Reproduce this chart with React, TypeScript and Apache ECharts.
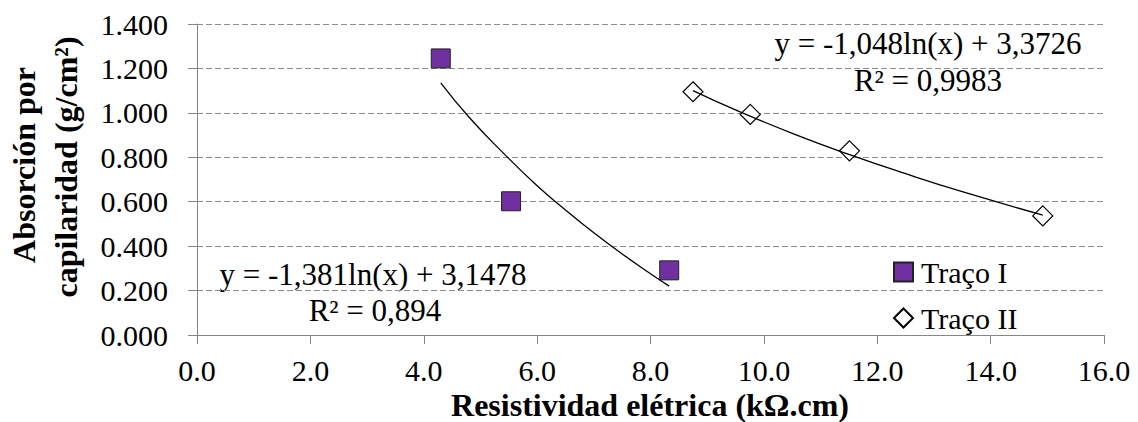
import React, { useEffect, useRef } from "react";
import * as echarts from "echarts";

// Scatter data
const traco1X = [4.3, 5.54, 8.33];
const traco1Y = [1.245, 0.602, 0.291];
const traco2X = [8.75, 9.76, 11.51, 14.92];
const traco2Y = [1.095, 0.993, 0.829, 0.536];

// Trendline points
const trend1X = [4.3, 4.8, 5.4, 6.0, 6.5, 7.0, 7.5, 8.0, 8.33];
const trend1Y = [1.135, 0.98, 0.82, 0.672, 0.563, 0.46, 0.365, 0.276, 0.22];
const trend2X = [8.75, 9.5, 10.5, 11.5, 12.5, 13.5, 14.92];
const trend2Y = [1.1, 1.013, 0.908, 0.813, 0.726, 0.645, 0.54];

const seriesNames = ["Traço I", "Traço II"];
const eq1 = ["y = -1,381ln(x) + 3,1478", "R² = 0,894"];
const eq2 = ["y = -1,048ln(x) + 3,3726", "R² = 0,9983"];
const xTitle = "Resistividad elétrica (kΩ.cm)";
const yTitle = ["Absorción por", "capilaridad (g/cm²)"];

const FONT = "Liberation Serif";

const zip = (xs: number[], ys: number[]) => xs.map((x, i) => [x, ys[i]]);

export default function App() {
  const ref = useRef<HTMLDivElement>(null);
  useEffect(() => {
    document.body.style.margin = "0";
    const chart = echarts.init(ref.current!, null, { renderer: "svg" });
    const txt = (text: string, x: number, y: number, size: number, bold = false, rotation = 0) => ({
      type: "text",
      x,
      y,
      rotation,
      style: {
        text,
        fill: "#000",
        fontFamily: FONT,
        fontSize: size,
        fontWeight: bold ? "bold" : "normal",
        align: "center",
        verticalAlign: "middle",
      },
    });
    chart.setOption({
      animation: false,
      textStyle: { fontFamily: FONT },
      grid: { left: 197, right: 34, top: 24, bottom: 87, containLabel: false },
      xAxis: {
        type: "value",
        min: 0,
        max: 16,
        interval: 2,
        axisLine: { show: true, lineStyle: { color: "#868686", width: 1 } },
        axisTick: { show: true, inside: false, length: 9, lineStyle: { color: "#868686" } },
        splitLine: { show: false },
        axisLabel: {
          color: "#000",
          fontFamily: FONT,
          fontSize: 30,
          margin: 20,
          formatter: (v: number) => v.toFixed(1),
        },
      },
      yAxis: {
        type: "value",
        min: 0,
        max: 1.4,
        interval: 0.2,
        axisLine: { show: true, lineStyle: { color: "#868686", width: 1 } },
        axisTick: { show: true, inside: false, length: 9, lineStyle: { color: "#868686" } },
        splitLine: { show: true, lineStyle: { color: "#8c8c8c", type: [6, 3], width: 1 } },
        axisLabel: {
          color: "#000",
          fontFamily: FONT,
          fontSize: 30,
          margin: 29,
          formatter: (v: number) => v.toFixed(3),
        },
      },
      legend: {
        data: seriesNames,
        orient: "vertical",
        left: 888,
        top: 252,
        itemWidth: 19,
        itemHeight: 19,
        itemGap: 16,
        textStyle: { color: "#000", fontFamily: FONT, fontSize: 30, padding: [0, 0, 0, 3] },
      },
      series: [
        {
          name: seriesNames[0],
          type: "scatter",
          symbol: "rect",
          symbolSize: 19,
          itemStyle: { color: "#7030A0", borderColor: "#222", borderWidth: 1, opacity: 1 },
          data: zip(traco1X, traco1Y),
          z: 2,
        },
        {
          name: seriesNames[1],
          type: "scatter",
          symbol: "diamond",
          symbolSize: 20,
          itemStyle: { color: "#fff", borderColor: "#000", borderWidth: 1.2, opacity: 1 },
          data: zip(traco2X, traco2Y),
          z: 2,
        },
        {
          name: "trend1",
          type: "line",
          smooth: true,
          showSymbol: false,
          lineStyle: { color: "#000", width: 1.3 },
          data: zip(trend1X, trend1Y),
          z: 3,
          silent: true,
        },
        {
          name: "trend2",
          type: "line",
          smooth: true,
          showSymbol: false,
          lineStyle: { color: "#000", width: 1.3 },
          data: zip(trend2X, trend2Y),
          z: 3,
          silent: true,
        },
      ],
      graphic: [
        txt(eq1[0], 373, 274, 31),
        txt(eq1[1], 375, 310, 31),
        txt(eq2[0], 928, 43, 31),
        txt(eq2[1], 928, 80, 31),
        txt(xTitle, 650, 405, 32, true),
        txt(yTitle[0], 24, 165, 32, true, Math.PI / 2),
        txt(yTitle[1], 66, 167, 32, true, Math.PI / 2),
      ],
    });
    return () => chart.dispose();
  }, []);
  return <div ref={ref} style={{ width: 1138, height: 422 }} />;
}
